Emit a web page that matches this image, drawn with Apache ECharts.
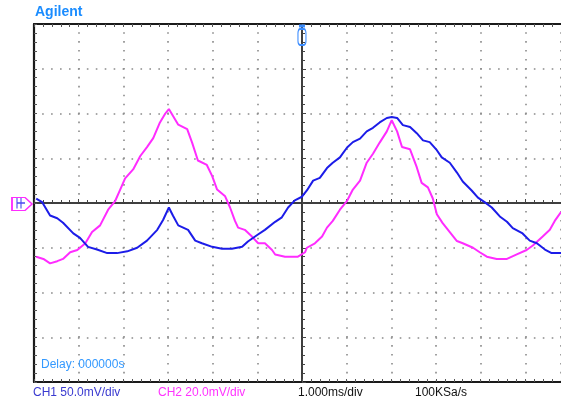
<!DOCTYPE html>
<html><head><meta charset="utf-8">
<script src="https://cdn.jsdelivr.net/npm/echarts@6/dist/echarts.min.js"></script>
<style>html,body{margin:0;padding:0;background:#fff;overflow:hidden}#c{width:561px;height:407px}</style>
</head><body><div id="c"></div>
<script>
// CH1 (blue) time in ms and voltage in mV
const ch1Time = [-5.95,-5.82,-5.64,-5.48,-5.35,-5.12,-4.97,-4.79,-4.59,-4.36,-4.14,-3.91,-3.69,-3.47,-3.24,-3.11,-2.98,-2.89,-2.77,-2.55,-2.39,-2.24,-2.01,-1.79,-1.57,-1.34,-1.21,-1.01,-0.83,-0.60,-0.45,-0.31,-0.16,0,0.11,0.25,0.40,0.56,0.69,0.85,1.01,1.14,1.30,1.45,1.59,1.74,1.90,2.01,2.13,2.26,2.42,2.57,2.71,2.86,3.02,3.13,3.31,3.47,3.60,3.80,3.94,4.09,4.25,4.43,4.59,4.72,4.94,5.10,5.26,5.44,5.59,5.80];
const ch1mV = [5,1,-14,-17,-22,-34,-39,-49,-52,-56,-56,-54,-50,-42,-30,-19,-5,-14,-25,-30,-42,-45,-49,-51,-51,-49,-43,-36,-30,-21,-16,-5,3,7,14,25,28,39,45,51,62,68,72,80,84,90,95,96,95,87,85,78,70,68,59,51,45,34,24,14,6,1,-5,-15,-21,-28,-34,-42,-45,-52,-56,-56];
// CH2 (magenta) time in ms and voltage in mV
const ch2Time = [-5.95,-5.79,-5.64,-5.48,-5.35,-5.19,-5.03,-4.85,-4.70,-4.52,-4.34,-4.18,-4.07,-3.96,-3.78,-3.62,-3.47,-3.33,-3.18,-3.06,-2.98,-2.89,-2.77,-2.57,-2.46,-2.33,-2.13,-2.01,-1.90,-1.72,-1.61,-1.50,-1.43,-1.28,-1.12,-0.98,-0.83,-0.67,-0.60,-0.38,-0.09,0.07,0.11,0.29,0.45,0.56,0.69,0.85,1.01,1.14,1.30,1.45,1.59,1.74,1.90,2.01,2.13,2.24,2.42,2.57,2.68,2.82,2.93,3.02,3.15,3.31,3.47,3.60,3.83,3.98,4.14,4.36,4.59,4.81,5.03,5.17,5.39,5.55,5.66,5.80];
const ch2mV = [-24,-25,-27,-26,-25,-22,-21,-18,-13,-10,-3,1,6,11,15,21,25,29,36,40,42,39,35,33,27,19,17,12,6,3,-2,-8,-11,-12,-15,-18,-18,-21,-23,-24,-24,-22,-20,-18,-15,-11,-8,-3,1,6,10,18,22,27,32,37,32,25,24,16,9,7,2,-5,-9,-13,-17,-18,-20,-22,-24,-25,-25,-23,-21,-19,-15,-12,-8,-4];
// Axis ranges (divisions); the screen capture is cropped at 5.8 ms on the right
const timeRange = [-6, 5.8];   // ms, 1.000 ms/div
const ch1Range = [-200, 200];  // mV, 50 mV/div
const ch2Range = [-80, 80];    // mV, 20 mV/div
const divRange = [-4, 4];
const labels = {
  brand: 'Agilent', delay: 'Delay: 000000s',
  ch1: 'CH1 50.0mV/div', ch2: 'CH2 20.0mV/div', time: '1.000ms/div', rate: '100KSa/s'
};

const FF = '"Liberation Sans", Arial, sans-serif';
const blue = '#1c1ce8', magenta = '#ff2cff';
const chart = echarts.init(document.getElementById('c'), null, {renderer: 'canvas'});

const dotLine = {color: '#8a8a8a', width: 1.6, type: [1.6, 7.34], dashOffset: 0.8};
function xAx(extra) {
  return Object.assign({type: 'value', min: timeRange[0], max: timeRange[1], interval: 1,
    axisLabel: {show: false}, splitLine: {show: false}}, extra);
}
function yAx(extra) {
  return Object.assign({type: 'value', min: divRange[0], max: divRange[1], interval: 1,
    axisLabel: {show: false}, splitLine: {show: false}}, extra);
}
const border = {onZero: false, lineStyle: {color: '#1a1a1a', width: 2.2}};
const tickIn = {show: true, inside: true, length: 3, lineStyle: {color: '#555', width: 1}};
const minorIn = {show: true, splitNumber: 5, length: 3, lineStyle: {color: '#555', width: 1}};
const centerLine = {onZero: true, onZeroAxisIndex: 0, lineStyle: {color: '#333', width: 1.5}};

const option = {
  animation: false,
  backgroundColor: '#fff',
  grid: {left: 34, top: 24, right: 0, height: 358, containLabel: false},
  title: [
    {text: labels.brand, left: 35, top: 5, padding: 0, textStyle: {color: '#1a8cff', fontSize: 14, fontWeight: 'bold', fontFamily: FF}},
    {text: labels.delay, left: 41, top: 359, padding: 0, textStyle: {color: '#3399ff', fontSize: 12, fontWeight: 'normal', fontFamily: FF}},
    {text: labels.ch1, left: 33, top: 387, padding: 0, textStyle: {color: '#3a3ad0', fontSize: 12, fontWeight: 'normal', fontFamily: FF}},
    {text: labels.ch2, left: 158, top: 387, padding: 0, textStyle: {color: '#ff33ff', fontSize: 12, fontWeight: 'normal', fontFamily: FF}},
    {text: labels.time, left: 298, top: 387, padding: 0, textStyle: {color: '#111', fontSize: 12, fontWeight: 'normal', fontFamily: FF}},
    {text: labels.rate, left: 415, top: 387, padding: 0, textStyle: {color: '#111', fontSize: 12, fontWeight: 'normal', fontFamily: FF}}
  ],
  xAxis: [
    xAx({position: 'bottom', axisLine: border, axisTick: tickIn, minorTick: minorIn,
         splitLine: {show: true, lineStyle: dotLine}}),
    xAx({position: 'top', axisLine: border, axisTick: tickIn, minorTick: minorIn}),
    xAx({position: 'bottom', axisLine: centerLine,
         axisTick: {show: true, inside: true, length: 4, lineStyle: {color: '#444'}},
         minorTick: {show: true, splitNumber: 5, length: 3, lineStyle: {color: '#444'}}}),
    xAx({position: 'top', axisLine: centerLine,
         axisTick: {show: true, inside: false, length: 4, lineStyle: {color: '#444'}},
         minorTick: {show: true, splitNumber: 5, length: 3, lineStyle: {color: '#444'}}})
  ],
  yAxis: [
    {type: 'value', min: ch1Range[0], max: ch1Range[1], interval: 50, position: 'left',
     axisLabel: {show: false}, axisLine: border, axisTick: tickIn, minorTick: minorIn,
     splitLine: {show: true, lineStyle: dotLine}},
    {type: 'value', min: ch2Range[0], max: ch2Range[1], interval: 20, show: false},
    yAx({position: 'left', axisLine: centerLine,
         axisTick: {show: true, inside: true, length: 4, lineStyle: {color: '#444'}},
         minorTick: {show: true, splitNumber: 5, length: 3, lineStyle: {color: '#444'}}}),
    yAx({position: 'right', axisLine: centerLine,
         axisTick: {show: true, inside: false, length: 4, lineStyle: {color: '#444'}},
         minorTick: {show: true, splitNumber: 5, length: 3, lineStyle: {color: '#444'}}})
  ],
  series: [
    {
      name: 'CH1', type: 'line', xAxisIndex: 0, yAxisIndex: 0, showSymbol: false, smooth: false,
      data: ch1Time.map((t, i) => [t, ch1mV[i]]),
      lineStyle: {color: blue, width: 2}, itemStyle: {color: blue}, z: 3,
      markPoint: {
        silent: true, label: {show: false},
        data: [
          {coord: [timeRange[0], 0], symbol: 'path://M0,0 L0,13 M4,0 L4,13 M0,6.5 L8,6.5', symbolSize: [8, 11], symbolOffset: [-13, 0],
           itemStyle: {color: 'rgba(0,0,0,0)', borderColor: '#4a4af0', borderWidth: 1.3}},
          {coord: [0, ch1Range[1]], symbol: 'roundRect', symbolSize: [8, 16], symbolOffset: [0, 13],
           itemStyle: {color: 'rgba(0,0,0,0)', borderColor: '#3a8cff', borderWidth: 1.5}},
          {coord: [0, ch1Range[1]], symbol: 'rect', symbolSize: [6, 3], symbolOffset: [0, 2],
           itemStyle: {color: '#3a8cff'}}
        ]
      }
    },
    {
      name: 'CH2', type: 'line', xAxisIndex: 0, yAxisIndex: 1, showSymbol: false, smooth: false,
      data: ch2Time.map((t, i) => [t, ch2mV[i]]),
      lineStyle: {color: magenta, width: 2}, itemStyle: {color: magenta}, z: 2,
      markPoint: {
        silent: true, label: {show: false},
        data: [
          {coord: [timeRange[0], 0], symbol: 'path://M0,0 L13,0 L20,6.5 L13,13 L0,13 Z', symbolSize: [20, 13], symbolOffset: [-12, 1],
           itemStyle: {color: 'rgba(0,0,0,0)', borderColor: magenta, borderWidth: 1.5}}
        ]
      }
    }
  ]
};
chart.setOption(option);
</script></body></html>
